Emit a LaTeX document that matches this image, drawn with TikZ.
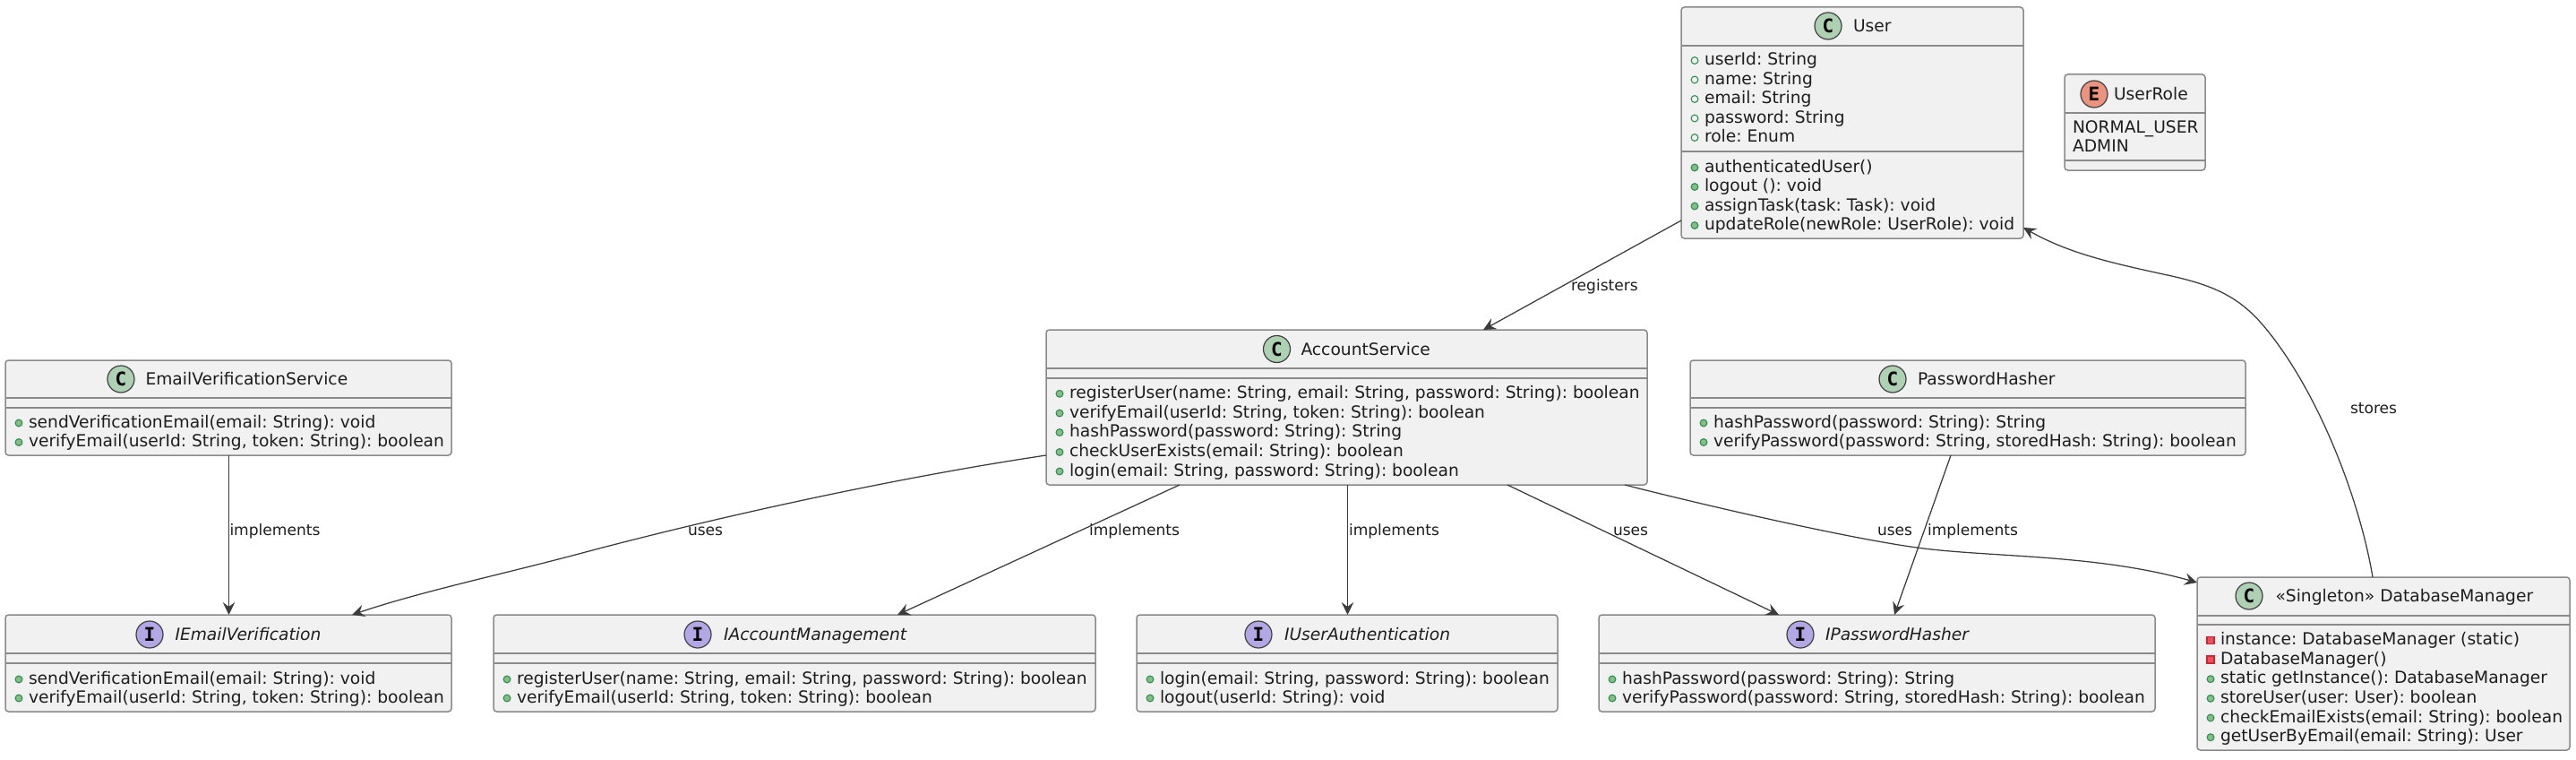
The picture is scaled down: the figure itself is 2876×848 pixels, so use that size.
\documentclass[tikz,border=0pt]{standalone}
\usepackage{fontspec}
\setmainfont{DejaVu Sans}
\newfontfamily\markfont{DejaVu Sans Mono}
\usetikzlibrary{arrows.meta}
\definecolor{boxfill}{HTML}{F1F1F1}
\definecolor{boxline}{HTML}{8A8A8A}
\definecolor{edgeline}{HTML}{3C3C3C}
\definecolor{txtc}{HTML}{1E1E1E}
\definecolor{spotC}{HTML}{ADD1B2}
\definecolor{spotE}{HTML}{EB937F}
\definecolor{spotI}{HTML}{B4A7E5}
\definecolor{pubfill}{HTML}{84BE84}
\definecolor{publine}{HTML}{2F8F55}
\definecolor{privfill}{HTML}{F24D5C}
\definecolor{privline}{HTML}{C82930}
\newcounter{txtn}
\tikzset{
  classbox/.style={draw=boxline,fill=boxfill,line width=1.5pt,rounded corners=3.5pt,inner sep=0pt,outer sep=0pt},
  sepline/.style={draw=boxline,line width=1.5pt},
  classtxt/.style={anchor=base west,inner sep=0pt,outer sep=0pt,text=txtc,font=\fontsize{18.67}{22}\selectfont\frenchspacing},
  edgetxt/.style={anchor=base west,inner sep=0pt,outer sep=0pt,text=txtc,font=\fontsize{17.07}{20}\selectfont\frenchspacing},
  spot/.style={circle,draw=black!75,line width=1.2pt,minimum size=30pt,inner sep=0pt,outer sep=0pt,text=black,font=\markfont\bfseries\fontsize{21}{24}\selectfont},
  conn/.style={draw=edgeline,line width=1.25pt,-{Stealth[length=14pt,width=13.5pt,inset=5pt]}},
  connrev/.style={draw=edgeline,line width=1.25pt,{Stealth[length=14pt,width=13.5pt,inset=5pt]}-},
}
% name, left, top, right, bottom, line1, line2
\newcommand{\umlbox}[7]{%
  \pgfmathsetmacro\boxW{#4-#2}\pgfmathsetmacro\boxH{#5-#3}%
  \pgfmathsetmacro\boxX{(#4+#2)/2}\pgfmathsetmacro\boxY{(#5+#3)/2}%
  \node[classbox,minimum width=\boxW pt,minimum height=\boxH pt] (#1) at (\boxX,\boxY) {};
  \draw[sepline] (#2,#6) -- (#4,#6);
  \draw[sepline] (#2,#7) -- (#4,#7);
}
% name, letter, colour, circle x, circle y, text x, text
\newcommand{\umlhead}[7]{%
  \node[spot,fill=#3] (#1-spot) at (#4,#5) {#2};
  \pgfmathsetmacro\headB{#5+6.7}%
  \node[classtxt] (#1-name) at (#6,\headB) {#7};
}
\newcommand{\rowtxt}[3]{%
  \stepcounter{txtn}%
  \pgfmathsetmacro\rowB{#2+5.2}%
  \node[classtxt] (txt\arabic{txtn}) at (#1,\rowB) {#3};
}
% left edge, y of marker, text
\newcommand{\pubm}[3]{%
  \pgfmathsetmacro\dotX{#1+15}\pgfmathsetmacro\txtX{#1+26}%
  \filldraw[fill=pubfill,draw=publine,line width=1.1pt] (\dotX,#2) circle (3.9pt);
  \rowtxt{\txtX}{#2}{#3}
}
\newcommand{\puba}[3]{%
  \pgfmathsetmacro\dotX{#1+15}\pgfmathsetmacro\txtX{#1+26}%
  \filldraw[fill=boxfill,draw=publine,line width=1.1pt] (\dotX,#2) circle (3.9pt);
  \rowtxt{\txtX}{#2}{#3}
}
\newcommand{\privm}[3]{%
  \pgfmathsetmacro\dotX{#1+15}\pgfmathsetmacro\txtX{#1+26}%
  \filldraw[fill=privfill,draw=privline,line width=1.1pt] (\dotX-4,#2-4) rectangle (\dotX+4,#2+4);
  \rowtxt{\txtX}{#2}{#3}
}
\begin{document}
\begin{tikzpicture}[x=1pt,y=-1pt]
\useasboundingbox (0,0) rectangle (2876,848);
\fill[white] (0,0) rectangle (2876,848);

% User
\umlbox{user}{1877}{8}{2259}{266}{51}{169}
\umlhead{user}{C}{spotC}{2041}{29}{2069}{User}
\puba{1877}{67.5}{userId: String}
\puba{1877}{89}{name: String}
\puba{1877}{110.5}{email: String}
\puba{1877}{132}{password: String}
\puba{1877}{153.5}{role: Enum}
\pubm{1877}{187}{authenticatedUser()}
\pubm{1877}{208.5}{logout (): void}
\pubm{1877}{230}{assignTask(task: Task): void}
\pubm{1877}{251.5}{updateRole(newRole: UserRole): void}

% UserRole
\umlbox{role}{2305}{83}{2462}{190}{126}{179}
\umlhead{role}{E}{spotE}{2338}{105}{2360}{UserRole}
\node[classtxt] (roleA) at (2314,148.7) {NORMAL\_USER};
\node[classtxt] (roleB) at (2314,170) {ADMIN};

% EmailVerificationService
\umlbox{evs}{6}{402}{504}{508}{444}{455}
\umlhead{evs}{C}{spotC}{135}{423}{162.5}{EmailVerificationService}
\pubm{6}{472}{sendVerificationEmail(email: String): void}
\pubm{6}{493.5}{verifyEmail(userId: String, token: String): boolean}

% AccountService
\umlbox{acc}{1168}{368}{1839}{541}{411}{422}
\umlhead{acc}{C}{spotC}{1425.5}{389.5}{1452.5}{AccountService}
\pubm{1168}{439.3}{registerUser(name: String, email: String, password: String): boolean}
\pubm{1168}{461}{verifyEmail(userId: String, token: String): boolean}
\pubm{1168}{482.5}{hashPassword(password: String): String}
\pubm{1168}{504.5}{checkUserExists(email: String): boolean}
\pubm{1168}{526}{login(email: String, password: String): boolean}

% PasswordHasher
\umlbox{ph}{1887}{402}{2507}{508}{444}{455}
\umlhead{ph}{C}{spotC}{2113}{423}{2141}{PasswordHasher}
\pubm{1887}{472}{hashPassword(password: String): String}
\pubm{1887}{493.5}{verifyPassword(password: String, storedHash: String): boolean}

% IEmailVerification
\umlbox{iev}{6}{686}{504}{794}{729}{740}
\umlhead{iev}{I}{spotI}{167}{708}{195.5}{\textit{IEmailVerification}}
\pubm{6}{758}{sendVerificationEmail(email: String): void}
\pubm{6}{779}{verifyEmail(userId: String, token: String): boolean}

% IAccountManagement
\umlbox{iam}{551}{686}{1223}{794}{729}{740}
\umlhead{iam}{I}{spotI}{779}{708}{808}{\textit{IAccountManagement}}
\pubm{551}{758}{registerUser(name: String, email: String, password: String): boolean}
\pubm{551}{779}{verifyEmail(userId: String, token: String): boolean}

% IUserAuthentication
\umlbox{iua}{1269}{686}{1739}{794}{729}{740}
\umlhead{iua}{I}{spotI}{1405}{708}{1434}{\textit{IUserAuthentication}}
\pubm{1269}{758}{login(email: String, password: String): boolean}
\pubm{1269}{779}{logout(userId: String): void}

% IPasswordHasher
\umlbox{iph}{1785}{686}{2406}{794}{729}{740}
\umlhead{iph}{I}{spotI}{2010}{708}{2038}{\textit{IPasswordHasher}}
\pubm{1785}{758}{hashPassword(password: String): String}
\pubm{1785}{779}{verifyPassword(password: String, storedHash: String): boolean}

% DatabaseManager
\umlbox{db}{2453}{644}{2869}{837}{687}{697}
\umlhead{db}{C}{spotC}{2511}{665}{2540.5}{«Singleton» DatabaseManager}
\privm{2453}{714.3}{instance: DatabaseManager (static)}
\privm{2453}{736}{DatabaseManager()}
\pubm{2453}{757.7}{static getInstance(): DatabaseManager}
\pubm{2453}{779.3}{storeUser(user: User): boolean}
\pubm{2453}{801}{checkEmailExists(email: String): boolean}
\pubm{2453}{822.7}{getUserByEmail(email: String): User}

% Connectors
\draw[conn] ([yshift=-109pt]user.west) -- ([xshift=152.5pt]acc.north);
\draw[connrev] ([yshift=-117pt]user.east) .. controls (2310,283) and (2360,294) .. (2420,307)
   .. controls (2470,318) and (2500,330) .. (2530,367)
   .. controls (2590,440) and (2635,560) .. ([xshift=-12pt]db.north);
\draw[conn] ([xshift=310.5pt]acc.south) .. controls (1900,563) and (2060,600) .. (2140,611)
   .. controls (2220,622) and (2340,618) .. ([yshift=90.5pt]db.west);
\draw[conn] ([xshift=-19pt]ph.south) -- ([xshift=19.5pt]iph.north);
\draw[conn] ([xshift=179.5pt]acc.south) -- ([xshift=-109.5pt]iph.north);
\draw[conn] ([xshift=1pt]acc.south) -- ([xshift=0.5pt]iua.north);
\draw[conn] ([xshift=-186.5pt]acc.south) -- ([xshift=115pt]iam.north);
\draw[conn] ([yshift=-53.5pt]acc.west) .. controls (1000,533) and (800,577) .. (650,617)
   .. controls (560,641) and (470,660) .. ([xshift=138pt]iev.north);
\draw[conn] ([xshift=0.5pt]evs.south) -- ([xshift=0.5pt]iev.north);

% Connector labels
\node[edgetxt] (l-reg) at (1754,324) {registers};
\node[edgetxt] (l-sto) at (2624,461) {stores};
\node[edgetxt] (l-u1) at (2096,597) {uses};
\node[edgetxt] (l-i1) at (2152,597) {implements};
\node[edgetxt] (l-u2) at (1801,597) {uses};
\node[edgetxt] (l-i2) at (1506,597) {implements};
\node[edgetxt] (l-i3) at (1216,597) {implements};
\node[edgetxt] (l-u3) at (768,597) {uses};
\node[edgetxt] (l-i4) at (256.5,597) {implements};
\end{tikzpicture}
\end{document}
